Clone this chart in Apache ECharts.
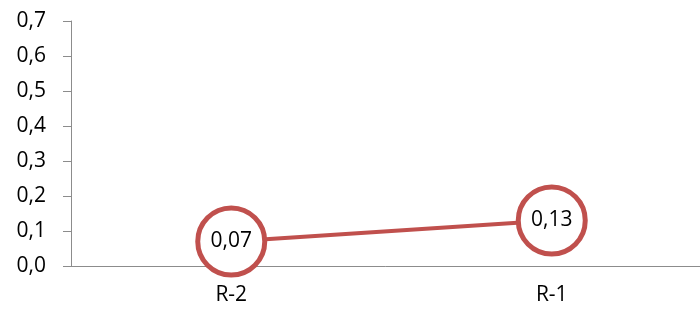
<!DOCTYPE html>
<html><head><meta charset="utf-8">
<script src="https://cdn.jsdelivr.net/npm/echarts@6/dist/echarts.min.js"></script>
<style>html,body{margin:0;padding:0;background:#fff}#c{width:700px;height:309px}</style>
</head><body><div id="c"></div>
<script>
const categories = ['R-2', 'R-1'];
const values = [0.07, 0.13];
const yTicks = { min: 0, max: 0.7, interval: 0.1 };
const chart = echarts.init(document.getElementById('c'));
chart.setOption({
  animation: false,
  grid: { left: 71, width: 641, top: 21, height: 245, outerBoundsMode: 'none', containLabel: false },
  xAxis: {
    type: 'category', data: categories, boundaryGap: true,
    axisLine: { lineStyle: { color: '#8c8c8c', width: 1 } },
    axisTick: { show: false },
    axisLabel: { color: '#000', fontSize: 21, fontFamily: 'Open Sans', margin: 19 }
  },
  yAxis: {
    type: 'value', min: yTicks.min, max: yTicks.max, interval: yTicks.interval,
    axisLine: { show: true, lineStyle: { color: '#8c8c8c', width: 1 } },
    axisTick: { show: true, length: 8, lineStyle: { color: '#8c8c8c' } },
    splitLine: { show: false },
    axisLabel: { color: '#000', fontSize: 21, fontFamily: 'Open Sans', margin: 25,
      formatter: v => v.toFixed(1).replace('.', ',') }
  },
  series: [{
    type: 'line', data: values,
    lineStyle: { color: '#C0504D', width: 4 },
    symbol: 'circle', symbolSize: 67,
    itemStyle: { color: '#fff', borderColor: '#C0504D', borderWidth: 5 },
    label: { show: true, position: 'inside', color: '#000', fontSize: 21, fontFamily: 'Open Sans',
      formatter: p => p.value.toFixed(2).replace('.', ',') },
    z: 3
  }]
});
</script></body></html>
